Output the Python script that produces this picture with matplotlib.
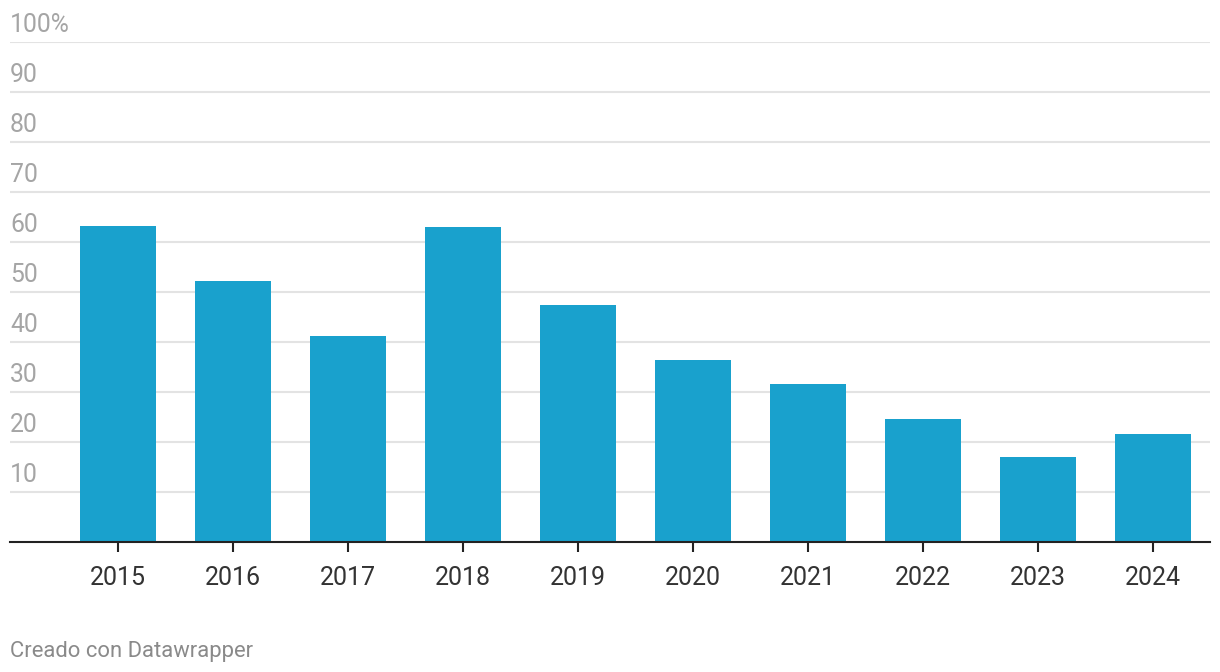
import matplotlib
matplotlib.use("Agg")
import matplotlib.pyplot as plt
import matplotlib.transforms as mtransforms

years = ["2015", "2016", "2017", "2018", "2019", "2020", "2021", "2022", "2023", "2024"]
values = [63.2, 52.2, 41.2, 63.0, 47.4, 36.4, 31.6, 24.6, 17.0, 21.6]
ytick_values = [10, 20, 30, 40, 50, 60, 70, 80, 90, 100]
ytick_labels = ["10", "20", "30", "40", "50", "60", "70", "80", "90", "100%"]

plt.rcParams['font.family'] = ['Roboto', 'DejaVu Sans']

W, H = 1220, 672
fig = plt.figure(figsize=(W / 100, H / 100), dpi=100)
left, right, bottom, top = 10, 1210, 542, 42
ax = fig.add_axes([left / W, (H - bottom) / H, (right - left) / W, (bottom - top) / H])

x = list(range(len(years)))
ax.bar(x, values, width=0.665, color="#19a1cd", zorder=2)

ax.set_xlim(-(118 - 10) / 115, 9 + (1210 - 1153) / 115)
ax.set_ylim(0, 100)

for v in ytick_values:
    ax.axhline(v, color="#e3e3e3", lw=1.5, zorder=1)

offset = mtransforms.ScaledTranslation(0, 10 / 100, fig.dpi_scale_trans)
trans = mtransforms.blended_transform_factory(ax.transAxes, ax.transData) + offset
for v, lab in zip(ytick_values, ytick_labels):
    ax.text(0, v, lab, transform=trans, ha="left", va="baseline",
            fontsize=17.8, color="#a5a5a5", zorder=3)

for s in ["top", "right", "left"]:
    ax.spines[s].set_visible(False)
ax.spines["bottom"].set_color("#222222")
ax.spines["bottom"].set_linewidth(1.5)
ax.spines["bottom"].set_zorder(4)

ax.set_yticks([])
ax.set_xticks(x)
ax.set_xticklabels(years)
ax.tick_params(axis="x", length=7, width=1.5, color="#222222", pad=10.5,
               labelsize=18, labelcolor="#333333")

fig.text(10 / W, 1 - 657 / H, "Creado con Datawrapper", ha="left", va="baseline",
         fontsize=15.8, color="#8a8a8a")

fig.savefig("out.png", dpi=100)
